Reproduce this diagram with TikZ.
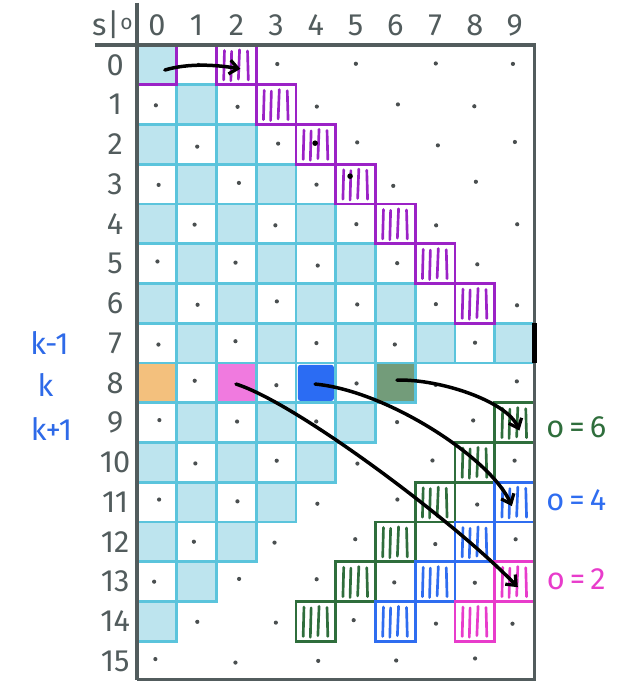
\documentclass[tikz,border=0pt]{standalone}
\usepackage{fontspec}
\setmainfont{Fira Sans}
\usetikzlibrary{arrows.meta}
\definecolor{cyfill}{HTML}{BDE4EE}
\definecolor{cyline}{HTML}{5BC4DC}
\definecolor{purp}{HTML}{9B22C6}
\definecolor{dgreen}{HTML}{2F6E3C}
\definecolor{gfill}{HTML}{739C7A}
\definecolor{bline}{HTML}{2F6DF0}
\definecolor{bfill}{HTML}{2B6CF3}
\definecolor{pline}{HTML}{E83CCB}
\definecolor{pfill}{HTML}{F07ADF}
\definecolor{ofill}{HTML}{F3C07D}
\definecolor{framegray}{HTML}{525C5D}
\definecolor{lblue}{HTML}{2E6AE8}
\definecolor{dotc}{HTML}{4A4F50}
\tikzset{
  cellst/.style={draw=cyline, line width=2pt},
  boxst/.style={line width=2.1pt},
  hatchst/.style={line width=1.9pt, line cap=round},
  framest/.style={framegray, line width=2.3pt},
  lab/.style={text=framegray, font=\fontsize{22}{26}\selectfont, inner sep=0pt},
  arr/.style={black, line width=2.5pt, line cap=round, -{Straight Barb[length=6pt,width=10pt,line width=2.3pt]}}
}
\newcommand\hatchcell[3]{%
  \fill[white] (#2,#1) rectangle ++(1,1);
  \draw[#3, hatchst] (#2+0.2,#1+0.14) -- (#2+0.18,#1+0.88);
  \draw[#3, hatchst] (#2+0.38,#1+0.16) -- (#2+0.36,#1+0.9);
  \draw[#3, hatchst] (#2+0.58,#1+0.12) -- (#2+0.55,#1+0.86);
  \draw[#3, hatchst] (#2+0.78,#1+0.15) -- (#2+0.8,#1+0.88);
  \draw[#3, boxst] (#2,#1) rectangle ++(1,1);
}
\begin{document}
\begin{tikzpicture}[x=1cm,y=-1cm]
\useasboundingbox (-3.447,-1.132) rectangle (12.151,16.126);
% cyan region, rows 0-6
\foreach \r in {0,...,6}{
  \pgfmathtruncatemacro\m{\r+1}
  \foreach \c in {0,...,\m}{
    \pgfmathtruncatemacro\p{mod(\r+\c,2)}
    \ifnum\p=0 \def\fc{cyfill}\else\def\fc{white}\fi
    \filldraw[cellst, fill=\fc] (\c,\r) rectangle ++(1,1);
  }
}
% row 7
\foreach \c in {0,...,9}{
  \pgfmathtruncatemacro\p{mod(7+\c,2)}
  \ifnum\p=0 \def\fc{cyfill}\else\def\fc{white}\fi
  \filldraw[cellst, fill=\fc] (\c,7) rectangle ++(1,1);
}
% rows 9-14
\foreach \r in {9,...,14}{
  \pgfmathtruncatemacro\m{14-\r}
  \foreach \c in {0,...,\m}{
    \pgfmathtruncatemacro\p{mod(\r+\c,2)}
    \ifnum\p=0 \def\fc{cyfill}\else\def\fc{white}\fi
    \filldraw[cellst, fill=\fc] (\c,\r) rectangle ++(1,1);
  }
}
% row 8
\foreach \c/\fc in {0/ofill,1/white,2/pfill,3/white,4/white,5/white,6/gfill}{
  \filldraw[cellst, fill=\fc] (\c,8) rectangle ++(1,1);
}
\fill[bfill, rounded corners=2pt] (4.045,8.045) rectangle (4.955,8.955);
% dots
\pgfmathsetseed{11}
\foreach \r in {0,...,15}{
  \foreach \c in {0,...,9}{
    \pgfmathtruncatemacro\p{mod(\r+\c,2)}
    \ifnum\p=1
      \pgfmathsetmacro\dx{0.5+0.07*rand}
      \pgfmathsetmacro\dy{0.5+0.07*rand}
      \fill[dotc] (\c+\dx,\r+\dy) circle (1.5pt);
    \fi
  }
}
% purple
\draw[purp, boxst] (0,0) rectangle (1,1);
\foreach \r in {0,...,6}{ \hatchcell{\r}{\r+2}{purp} }
\fill[black] (4.48,2.47) circle (2pt);
\fill[black] (5.36,3.30) circle (2pt);
% green
\hatchcell{9}{9}{dgreen}
\hatchcell{10}{8}{dgreen}
\hatchcell{11}{7}{dgreen}
\hatchcell{12}{6}{dgreen}
\hatchcell{13}{5}{dgreen}
\hatchcell{14}{4}{dgreen}
% blue
\hatchcell{11}{9}{bline}
\hatchcell{12}{8}{bline}
\hatchcell{13}{7}{bline}
\hatchcell{14}{6}{bline}
% pink
\hatchcell{13}{9}{pline}
\hatchcell{14}{8}{pline}
% frame
\draw[framest] (-1.06,0) -- (10,0) -- (10,15.97) -- (0,15.97);
\draw[framest] (0,-1.06) -- (0,15.97);
\draw[black, line width=3pt] (10,7) -- (10,8);
% labels
\node[lab] (hdr) at (-0.62,-0.52) {s\kern0.5pt|\kern0.5pt\raisebox{0.35ex}{\fontsize{15}{15}\selectfont o}};
\foreach \c in {0,...,9}{ \node[lab] (col\c) at (\c+0.5,-0.5) {\c}; }
\foreach \r in {0,...,15}{ \node[lab] (row\r) at (-0.55,\r+0.5) {\r}; }
\node[lab, text=lblue] (km) at (-2.2,7.5) {k-1};
\node[lab, text=lblue] (k) at (-2.3,8.55) {k};
\node[lab, text=lblue] (kp) at (-2.15,9.65) {k+1};
\node[lab, text=dgreen] (o6) at (11.05,9.62) {o\,=\,6};
\node[lab, text=bline] (o4) at (11.05,11.45) {o\,=\,4};
\node[lab, text=pline] (o2) at (11.05,13.45) {o\,=\,2};
% arrows
\coordinate (a0) at (0.70,0.63);
\coordinate (b0) at (2.6,0.6);
\coordinate (a6) at (6.54,8.43);
\coordinate (b6) at (9.62,9.7);
\coordinate (a4) at (4.48,8.53);
\coordinate (b4) at (9.43,11.6);
\coordinate (a2) at (2.49,8.53);
\coordinate (b2) at (9.58,13.64);
\draw[arr] (a0) .. controls (1.3,0.45) and (2.0,0.5) .. (b0);
\draw[arr] (a6) .. controls (7.6,8.4) and (9.3,8.95) .. (b6);
\draw[arr] (a4) .. controls (6.3,8.7) and (8.9,10.4) .. (b4);
\draw[arr] (a2) .. controls (4.0,9.0) and (8.0,12.0) .. (b2);
\end{tikzpicture}
\end{document}
